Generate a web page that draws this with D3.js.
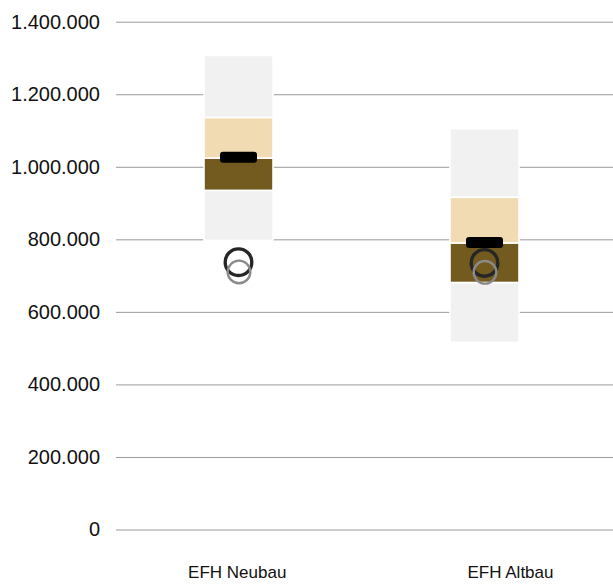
<!DOCTYPE html>
<html>
<head>
<meta charset="utf-8">
<script src="https://cdn.jsdelivr.net/npm/d3@7"></script>
<style>
  html, body { margin: 0; padding: 0; background: #fff; }
  svg { display: block; font-family: "Liberation Sans", Arial, sans-serif; }
</style>
</head>
<body>
<svg id="chart" width="613" height="585"></svg>
<script>
const categories = ["EFH Neubau", "EFH Altbau"];
const lowerWhisker = [797000, 516000];
const quartile1 = [935000, 681000];
const medianVal = [1024000, 790000];
const quartile3 = [1136000, 916000];
const upperWhisker = [1307000, 1105000];
const meanVal = [1026000, 791500];
const pointDark = [737000, 735000];
const pointGray = [710000, 709000];
const yTicks = [0, 200000, 400000, 600000, 800000, 1000000, 1200000, 1400000];

const svg = d3.select("#chart");
const locale = d3.formatLocale({ decimal: ",", thousands: ".", grouping: [3], currency: ["", " €"] });
const fmt = locale.format(",.0f");

const y = d3.scaleLinear().domain([0, 1400000]).range([529.5, 21.7]);
const x = d3.scalePoint().domain(categories).range([238.5, 484.5]);
const xLabel = d3.scalePoint().domain(categories).range([236.7, 510]);

const gridLeft = 116, gridRight = 613;

// y axis (gridlines + labels)
const yAxis = d3.axisLeft(y).tickValues(yTicks).tickFormat(fmt)
  .tickSize(-(gridRight - gridLeft)).tickPadding(16);
const gy = svg.append("g").attr("transform", `translate(${gridLeft},0)`).call(yAxis);
gy.select(".domain").remove();
gy.selectAll(".tick line").attr("stroke", "#9a9a9a").attr("stroke-width", 1);
gy.selectAll(".tick text").attr("fill", "#111").attr("font-size", 20)
  .attr("font-family", '"Liberation Sans", Arial, sans-serif');

// x labels
const xAxis = d3.axisBottom(xLabel).tickSize(0).tickPadding(0);
const gx = svg.append("g").attr("transform", "translate(0,566)").call(xAxis);
gx.select(".domain").remove();
gx.selectAll(".tick text").attr("fill", "#111").attr("font-size", 17).attr("dy", "0.71em")
  .attr("font-family", '"Liberation Sans", Arial, sans-serif');

const boxW = 69;
const data = categories.map((c, i) => ({
  c, lo: lowerWhisker[i], q1: quartile1[i], med: medianVal[i], q3: quartile3[i],
  hi: upperWhisker[i], mean: meanVal[i], pd: pointDark[i], pg: pointGray[i]
}));

const segs = [];
data.forEach(d => {
  segs.push({ c: d.c, a: d.lo, b: d.q1, fill: "#f1f1f1" });
  segs.push({ c: d.c, a: d.q1, b: d.med, fill: "#735b1f" });
  segs.push({ c: d.c, a: d.med, b: d.q3, fill: "#f0dbb3" });
  segs.push({ c: d.c, a: d.q3, b: d.hi, fill: "#f1f1f1" });
});

svg.append("g").selectAll("rect").data(segs).join("rect")
  .attr("x", d => x(d.c) - boxW / 2)
  .attr("width", boxW)
  .attr("y", d => y(d.b))
  .attr("height", d => y(d.a) - y(d.b))
  .attr("fill", d => d.fill)
  .attr("stroke", "#fff")
  .attr("stroke-width", 1.6);

// mean marker
const mW = 37, mH = 11;
svg.append("g").selectAll("rect").data(data).join("rect")
  .attr("x", d => x(d.c) - mW / 2)
  .attr("y", d => y(d.mean) - mH / 2)
  .attr("width", mW).attr("height", mH)
  .attr("rx", 3).attr("fill", "#000");

// points
svg.append("g").selectAll("circle").data(data).join("circle")
  .attr("cx", d => x(d.c))
  .attr("cy", d => y(d.pd))
  .attr("r", 13.3)
  .attr("fill", "none").attr("stroke", "#262626").attr("stroke-width", 3.4);

svg.append("g").selectAll("circle").data(data).join("circle")
  .attr("cx", d => x(d.c) + 0.5)
  .attr("cy", d => y(d.pg))
  .attr("r", 11.3)
  .attr("fill", "none").attr("stroke", "#8a8a8a").attr("stroke-width", 2.4);
</script>
</body>
</html>
